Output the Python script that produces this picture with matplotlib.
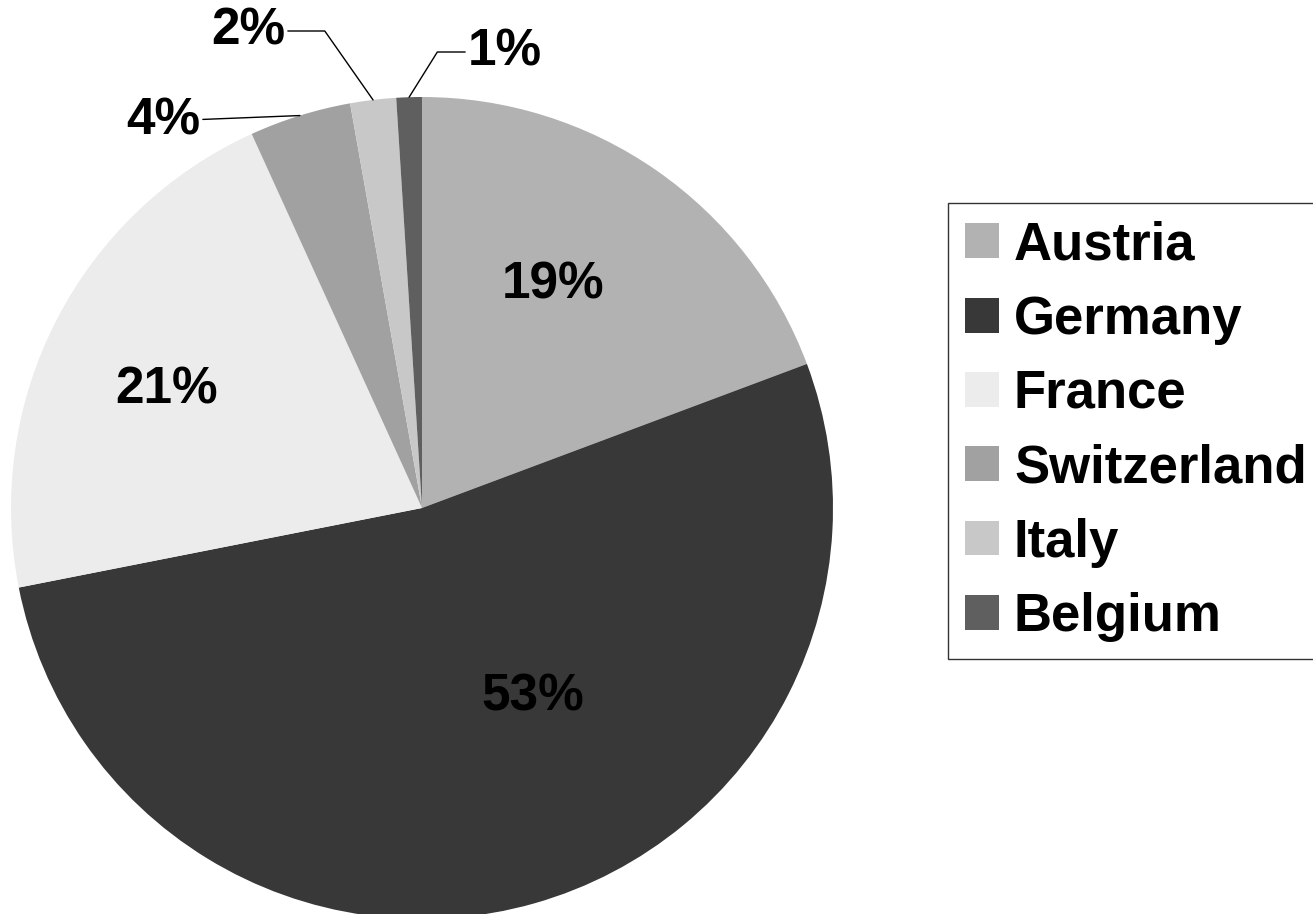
import numpy as np
import matplotlib
matplotlib.use("Agg")
import matplotlib.pyplot as plt

# share of each country (%)
countries = ["Austria", "Germany", "France", "Switzerland", "Italy", "Belgium"]
shares = [19.3, 52.6, 21.3, 4.0, 1.8, 1.0]
colors = ["#b2b2b2", "#383838", "#ececec", "#a1a1a1", "#c8c8c8", "#5f5f5f"]

W, H = 1313, 914
CX, CY, R = 422, 508, 411  # pie centre / radius in pixels


def to_data(px, py):
    return (px - CX) / R, (CY - py) / R


plt.rcParams["font.family"] = ["Liberation Sans", "DejaVu Sans"]
plt.rcParams["font.weight"] = "bold"

fig = plt.figure(figsize=(W / 100, H / 100), dpi=100)
ax = fig.add_axes([(CX - R) / W, (H - CY - R) / H, 2 * R / W, 2 * R / H])

wedges, _ = ax.pie(shares, colors=colors, startangle=90, counterclock=False,
                   radius=1.0, wedgeprops=dict(linewidth=0))
ax.set_xlim(-1, 1)
ax.set_ylim(-1, 1)
ax.axis("off")

label_fs = 37

# labels inside the big slices
inside_pos = {0: (553, 285), 1: (533, 697), 2: (167, 390)}
for i, (px, py) in inside_pos.items():
    x, y = to_data(px, py)
    ax.text(x, y, f"{shares[i]:.0f}%", ha="center", va="center",
            fontsize=label_fs, fontweight="bold", color="black")

# labels outside the small slices, with leader lines
outside = {3: ((163, 121), None), 4: ((248, 31), -55), 5: ((505, 52), 58)}
for i, ((px, py), angB) in outside.items():
    w = wedges[i]
    mid = np.deg2rad((w.theta1 + w.theta2) / 2)
    tip = (np.cos(mid), np.sin(mid))
    if angB is None:
        cs = "arc3,rad=0"
    else:
        cs = f"angle,angleA=0,angleB={angB},rad=0"
    ax.annotate(f"{shares[i]:.0f}%", xy=tip, xytext=to_data(px, py),
                ha="center", va="center", fontsize=label_fs, fontweight="bold",
                annotation_clip=False,
                arrowprops=dict(arrowstyle="-", connectionstyle=cs, color="black",
                                lw=1.0, shrinkA=0, shrinkB=0))

leg = fig.legend(wedges, countries, loc="upper left",
                 bbox_to_anchor=(948 / W, 1 - 203 / H), bbox_transform=fig.transFigure,
                 borderaxespad=0, prop=dict(weight="bold", size=38),
                 handlelength=0.64, handleheight=0.64, handletextpad=0.28,
                 labelspacing=0.46, borderpad=0.33, fancybox=False, shadow=False,
                 frameon=True)
leg.get_frame().set_edgecolor("black")
leg.get_frame().set_linewidth(1.0)

fig.savefig("out.png", dpi=100)
